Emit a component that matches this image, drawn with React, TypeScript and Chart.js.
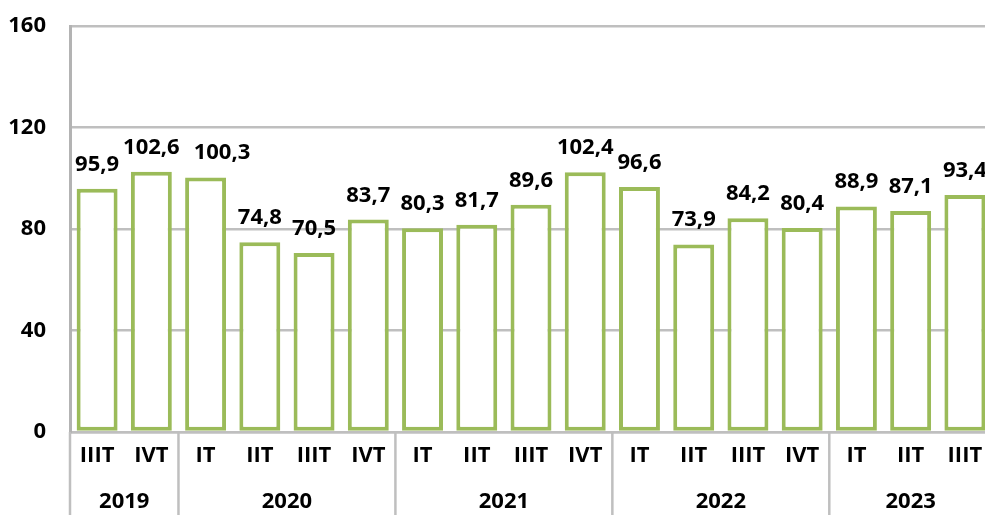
import React, { useEffect, useRef } from "react";
import { Chart, registerables } from "chart.js";

Chart.register(...registerables);

const quarters = ["IIIT", "IVT", "IT", "IIT", "IIIT", "IVT", "IT", "IIT", "IIIT", "IVT", "IT", "IIT", "IIIT", "IVT", "IT", "IIT", "IIIT"];
const values = [95.9, 102.6, 100.3, 74.8, 70.5, 83.7, 80.3, 81.7, 89.6, 102.4, 96.6, 73.9, 84.2, 80.4, 88.9, 87.1, 93.4];
const years = ["2019", "2020", "2021", "2022", "2023"];
const quartersPerYear = [2, 4, 4, 4, 3];
const yTicks = [0, 40, 80, 120, 160];

const GREEN = "#9BBB59";
const GRID = "#bfbfbf";
const FONT = "'Open Sans', 'Liberation Sans', sans-serif";
const FSIZE = 22;

const fmt = (v: number) => v.toFixed(1).replace(".", ",");

const overlayPlugin = {
  id: "overlay",
  afterDatasetsDraw(chart: any) {
    const ctx = chart.ctx;
    const meta = chart.getDatasetMeta(0);
    ctx.save();
    ctx.font = `bold ${FSIZE}px ${FONT}`;
    ctx.fillStyle = "#000";
    ctx.textAlign = "center";
    ctx.textBaseline = "alphabetic";
    let prevRight = -Infinity;
    let prevBase = 0;
    meta.data.forEach((bar: any, i: number) => {
      const text = fmt(values[i]);
      const w = ctx.measureText(text).width;
      const base = bar.y - 18;
      let cx = bar.x;
      const left = cx - w / 2;
      if (left < prevRight && Math.abs(base - prevBase) < FSIZE * 0.8) {
        cx += prevRight - left + 14;
      }
      ctx.fillText(text, cx, base);
      prevRight = cx + w / 2;
      prevBase = base;
    });
    ctx.restore();
  },
  afterDraw(chart: any) {
    const ctx = chart.ctx;
    const x = chart.scales.x;
    const area = chart.chartArea;
    const step = x.getPixelForValue(1) - x.getPixelForValue(0);
    ctx.save();
    ctx.strokeStyle = GRID;
    ctx.lineWidth = 2.5;
    let start = 0;
    const bounds = [0];
    quartersPerYear.forEach((n) => {
      start += n;
      bounds.push(start);
    });
    bounds.forEach((b) => {
      const px = x.getPixelForValue(b) - step / 2;
      ctx.beginPath();
      ctx.moveTo(px, area.bottom);
      ctx.lineTo(px, chart.height);
      ctx.stroke();
    });
    ctx.font = `bold ${FSIZE}px ${FONT}`;
    ctx.fillStyle = "#000";
    ctx.textAlign = "center";
    ctx.textBaseline = "middle";
    years.forEach((y, i) => {
      const a = x.getPixelForValue(bounds[i]) - step / 2;
      const b = x.getPixelForValue(bounds[i + 1]) - step / 2;
      ctx.fillText(y, (a + b) / 2, 502);
    });
    ctx.restore();
  },
};

export default function App() {
  const ref = useRef<HTMLCanvasElement>(null);
  useEffect(() => {
    if (!ref.current) return;
    const chart = new Chart(ref.current, {
      type: "bar",
      data: {
        labels: quarters,
        datasets: [
          {
            data: values,
            backgroundColor: "#ffffff",
            borderColor: GREEN,
            borderWidth: 4,
            borderSkipped: false,
            barPercentage: 0.755,
            categoryPercentage: 1,
          },
        ],
      },
      options: {
        animation: false,
        responsive: false,
        devicePixelRatio: 1,
        layout: { padding: { top: 26, right: 8, bottom: 0, left: 0 } },
        plugins: { legend: { display: false }, tooltip: { enabled: false } },
        scales: {
          x: {
            grid: { display: false, drawTicks: false },
            border: { display: true, color: GRID, width: 2.5 },
            ticks: {
              color: "#000",
              font: { family: FONT, size: FSIZE, weight: "bold" },
              padding: 11,
              autoSkip: false,
              maxRotation: 0,
            },
            afterFit: (s: any) => {
              s.height = 83;
              s.paddingLeft = 0;
              s.paddingRight = 0;
            },
          },
          y: {
            min: 0,
            max: 160,
            afterBuildTicks: (s: any) => {
              s.ticks = yTicks.map((v) => ({ value: v }));
            },
            grid: { color: GRID, lineWidth: 2.5, drawTicks: false },
            border: { display: true, color: "#b3b3b3", width: 3 },
            ticks: {
              color: "#000",
              font: { family: FONT, size: FSIZE, weight: "bold" },
              padding: 24,
            },
            afterFit: (s: any) => {
              s.width = 70;
              s.paddingTop = 0;
              s.paddingBottom = 0;
            },
          },
        },
      },
      plugins: [overlayPlugin],
    });
    return () => chart.destroy();
  }, []);
  return (
    <div style={{ position: "fixed", left: 0, top: 0, width: 985, height: 515, overflow: "hidden", background: "#fff" }}>
      <canvas ref={ref} width={1000} height={515} style={{ width: 1000, height: 515, display: "block" }} />
    </div>
  );
}
